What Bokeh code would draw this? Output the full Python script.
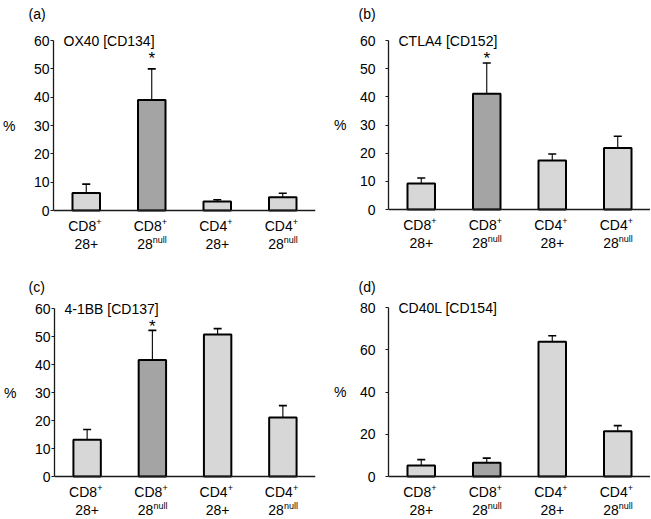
from bokeh.plotting import figure
from bokeh.layouts import column, row
from bokeh.models import (Range1d, Whisker, TeeHead, ColumnDataSource, FixedTicker, Span,
                          Title, LinearAxis)
from bokeh.core.properties import value
from bokeh.embed import file_html
from bokeh.resources import INLINE

# ---- data ----
cell_types = ["CD8", "CD8", "CD4", "CD4"]
cd28_status = ["+", "null", "+", "null"]
panel_letters = ["(a)", "(b)", "(c)", "(d)"]
markers = ["OX40 [CD134]", "CTLA4 [CD152]", "4-1BB [CD137]", "CD40L [CD154]"]

means_a = [6.2, 39.0, 3.2, 4.7]
upper_a = [9.3, 50.0, 3.8, 6.1]
means_b = [9.2, 41.1, 17.4, 21.8]
upper_b = [11.2, 52.0, 19.7, 26.0]
means_c = [13.1, 41.6, 50.7, 21.1]
upper_c = [16.8, 52.2, 52.8, 25.3]
means_d = [5.2, 6.5, 63.8, 21.4]
upper_d = [8.0, 8.7, 66.6, 24.1]

y_max = [60, 60, 60, 80]
y_ticks = [[0, 10, 20, 30, 40, 50, 60]] * 3 + [[0, 20, 40, 60, 80]]
star_level = [55, 55, 55, None]  # asterisk over CD8+ 28null
y_title = "%"

means = [means_a, means_b, means_c, means_d]
uppers = [upper_a, upper_b, upper_c, upper_d]

FONT = "Liberation Sans"
LIGHT = "#d7d7d7"
DARK = "#a4a4a4"
AXIS = "#1a1a1a"


def make_panel(k, width, height, b_left, b_right, b_top, top_px, zero_px,
               letter_off, tick_standoff, pct_standoff):
    # frame spans b_top..height (canvas px); keep 0..max at the reference positions
    s = (zero_px - top_px) / y_max[k]
    y_hi = y_max[k] + (top_px - b_top) / s
    y_lo = -(height - zero_px) / s

    p = figure(width=width, height=height, output_backend="svg", toolbar_location=None,
               x_range=Range1d(0, 4), y_range=Range1d(y_lo, y_hi),
               min_border_left=b_left, min_border_right=b_right,
               min_border_top=b_top, min_border_bottom=0)
    p.outline_line_color = None
    p.grid.visible = False
    p.background_fill_color = "white"
    p.border_fill_color = "white"
    p.xaxis.visible = False

    p.title = Title(text=panel_letters[k], align="left", offset=letter_off, standoff=7,
                    text_font=FONT, text_font_size="14px", text_font_style="normal",
                    text_color="black")

    xs = [i + 0.5 for i in range(len(cell_types))]
    colors = [DARK if (ct == "CD8" and s28 == "null") else LIGHT
              for ct, s28 in zip(cell_types, cd28_status)]
    src = ColumnDataSource(dict(x=xs, top=means[k], upper=uppers[k], color=colors))

    w = Whisker(source=src, base="x", upper="upper", lower="top", dimension="height",
                line_color="black", line_width=1.1,
                upper_head=TeeHead(size=8, line_color="black", line_width=1.6), lower_head=None)
    p.add_layout(w)
    p.vbar(x="x", top="top", bottom=0, width=0.42, source=src,
           fill_color="color", line_color="black", line_width=2)

    # baseline (x axis line)
    p.add_layout(Span(location=0, dimension="width", line_color=AXIS, line_width=1.3))

    # y axis
    ya = p.yaxis[0]
    ya.bounds = (0, y_max[k])
    ya.ticker = FixedTicker(ticks=y_ticks[k])
    ya.minor_tick_line_color = None
    ya.major_tick_in = 0
    ya.major_tick_out = 3
    ya.major_label_standoff = tick_standoff
    ya.major_label_text_font = FONT
    ya.major_label_text_font_size = "14px"
    ya.major_label_text_color = "black"
    ya.axis_line_width = 1.3
    ya.axis_line_color = AXIS
    ya.major_tick_line_color = AXIS

    # "%" title, as the single label of an outer axis at the middle of the value span
    mid = y_max[k] / 2
    pa = LinearAxis(ticker=FixedTicker(ticks=[mid]), major_label_overrides={mid: y_title})
    pa.axis_line_color = None
    pa.major_tick_line_color = None
    pa.minor_tick_line_color = None
    pa.major_tick_out = 0
    pa.major_tick_in = 0
    pa.major_label_standoff = pct_standoff
    pa.major_label_text_font = FONT
    pa.major_label_text_font_size = "14px"
    pa.major_label_text_color = "black"
    p.add_layout(pa, "left")

    # marker title
    p.text(x=[0], y=[y_max[k]], text=[markers[k]], x_offset=10,
           text_font=value(FONT), text_font_size="14px", text_baseline="middle",
           text_align="left", text_color="black")

    # asterisk
    if star_level[k] is not None:
        p.text(x=[xs[1]], y=[star_level[k]], text=["*"], y_offset=4,
               text_font=value(FONT), text_font_size="17px", text_baseline="middle",
               text_align="center", text_color="black")

    # category labels (two lines, with superscripts)
    zeros = [0] * len(xs)
    p.text(x=xs, y=zeros, text=cell_types, x_offset=10, y_offset=15,
           text_font=value(FONT), text_font_size="14px", text_baseline="middle",
           text_align="right", text_color="black")
    p.text(x=xs, y=zeros, text=["+"] * len(xs), x_offset=10, y_offset=11,
           text_font=value(FONT), text_font_size="9px", text_baseline="middle",
           text_align="left", text_color="black")
    plus_x = [x for x, s28 in zip(xs, cd28_status) if s28 == "+"]
    null_x = [x for x, s28 in zip(xs, cd28_status) if s28 == "null"]
    p.text(x=plus_x, y=[0] * len(plus_x), text=["28+"] * len(plus_x), x_offset=0, y_offset=33,
           text_font=value(FONT), text_font_size="14px", text_baseline="middle",
           text_align="center", text_color="black")
    p.text(x=null_x, y=[0] * len(null_x), text=["28"] * len(null_x), x_offset=1, y_offset=33,
           text_font=value(FONT), text_font_size="14px", text_baseline="middle",
           text_align="right", text_color="black")
    p.text(x=null_x, y=[0] * len(null_x), text=["null"] * len(null_x), x_offset=1, y_offset=29,
           text_font=value(FONT), text_font_size="9px", text_baseline="middle",
           text_align="left", text_color="black")
    return p


pa_ = make_panel(0, 325, 255, 53, 10, 25, 40, 210, -25, 1, 15)
pb_ = make_panel(1, 325, 255, 63, 0, 25, 40, 209, -30, 10, 10)
pc_ = make_panel(2, 325, 263, 54, 10, 43, 53, 221, -26, 1, 15)
pd_ = make_panel(3, 325, 263, 63, 0, 43, 52, 221, -30, 10, 10)

layout = column(row(pa_, pb_, spacing=0), row(pc_, pd_, spacing=0), spacing=0)

open("out.html", "w").write(file_html(layout, INLINE))
